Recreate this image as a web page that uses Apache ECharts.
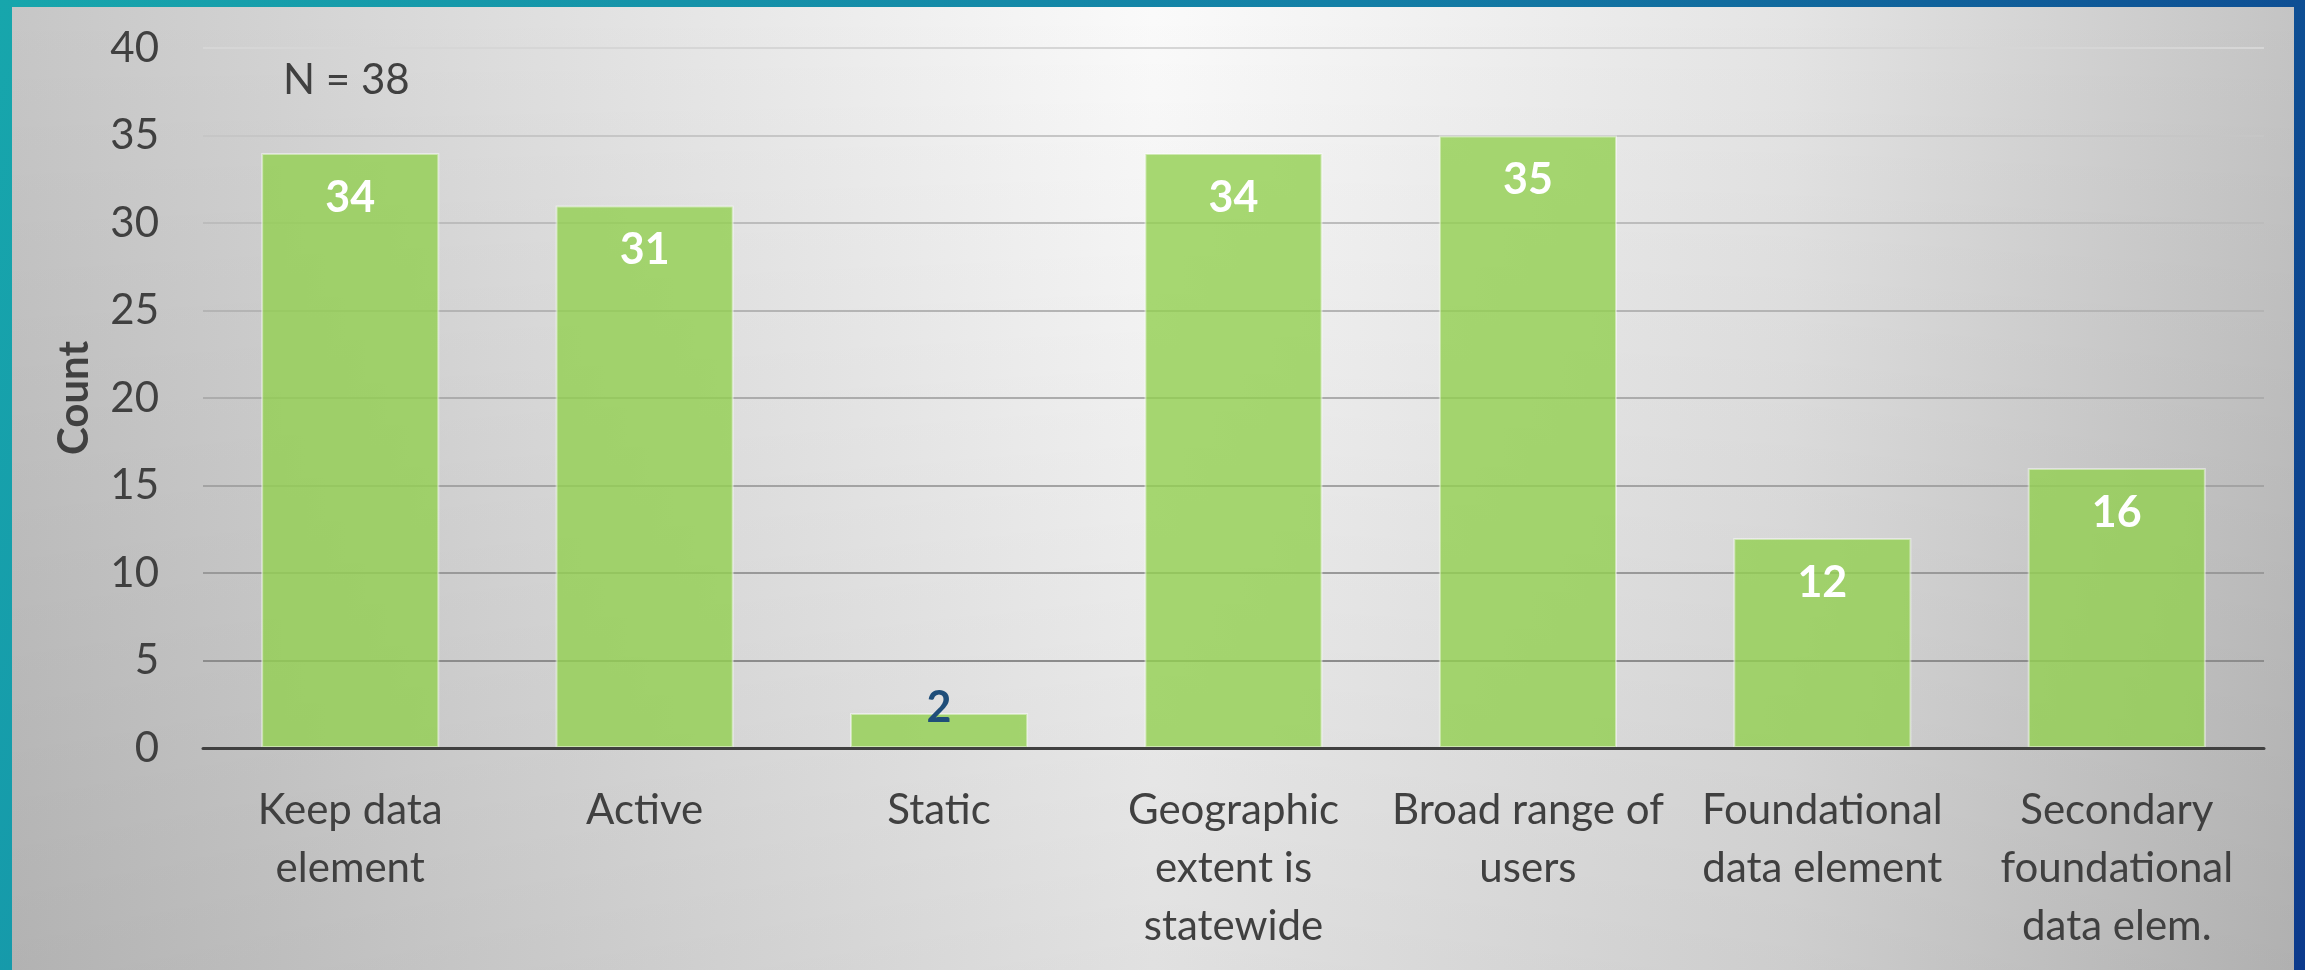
<!DOCTYPE html>
<html>
<head>
<meta charset="utf-8">
<script src="https://cdn.jsdelivr.net/npm/echarts@6/dist/echarts.min.js"></script>
<style>
html,body{margin:0;padding:0;width:2305px;height:970px;overflow:hidden;}
#chart{width:2305px;height:970px;}
</style>
</head>
<body>
<div id="chart"></div>
<script>
const categories = [
  "Keep data\nelement",
  "Active",
  "Static",
  "Geographic\nextent is\nstatewide",
  "Broad range of\nusers",
  "Foundational\ndata element",
  "Secondary\nfoundational\ndata elem."
];
const counts = [34, 31, 2, 34, 35, 12, 16];
const yTicks = { min: 0, max: 40, interval: 5 };
const annotation = "N = 38";
const yAxisTitle = "Count";

const FONT = "Lato";
const TXT = "#404040";

const chart = echarts.init(document.getElementById('chart'));

const seriesData = counts.map(function (v) {
  if (v < 5) {
    return {
      value: v,
      label: { position: 'top', distance: -20, color: '#1f4e79' }
    };
  }
  return v;
});

chart.setOption({
  animation: false,
  backgroundColor: {
    type: 'linear', x: 0, y: 0, x2: 1, y2: 1,
    colorStops: [
      { offset: 0, color: '#17a6ac' },
      { offset: 0.5, color: '#137fa6' },
      { offset: 1, color: '#0c3a8c' }
    ]
  },
  graphic: [
    {
      type: 'rect', z: -10, silent: true,
      shape: { x: 12, y: 7, width: 2282, height: 970 },
      style: {
        fill: {
          type: 'linear', x: 0, y: 0, x2: 1, y2: 0,
          colorStops: [
            { offset: 0, color: '#c6c6c6' },
            { offset: 0.22, color: '#dedede' },
            { offset: 0.5, color: '#fafafa' },
            { offset: 0.78, color: '#e4e4e4' },
            { offset: 1, color: '#c4c4c4' }
          ]
        }
      }
    },
    {
      type: 'rect', z: -9, silent: true,
      shape: { x: 12, y: 7, width: 2282, height: 970 },
      style: {
        fill: {
          type: 'linear', x: 0, y: 0, x2: 0, y2: 1,
          colorStops: [
            { offset: 0, color: 'rgba(0,0,0,0)' },
            { offset: 1, color: 'rgba(0,0,0,0.1)' }
          ]
        }
      }
    },
    {
      type: 'text', z: 10, left: 283, top: 59,
      style: {
        text: annotation,
        fontFamily: FONT, fontSize: 42, fill: TXT
      }
    }
  ],
  grid: { left: 203, right: 41, top: 48, bottom: 222, containLabel: false },
  xAxis: {
    type: 'category',
    data: categories,
    axisLine: { show: true, lineStyle: { color: '#404040', width: 3 } },
    axisTick: { show: false },
    axisLabel: {
      interval: 0, margin: 33,
      fontFamily: FONT, fontSize: 42, lineHeight: 58, color: TXT
    },
    z: 5
  },
  yAxis: {
    type: 'value',
    min: yTicks.min, max: yTicks.max, interval: yTicks.interval,
    name: yAxisTitle,
    nameLocation: 'middle',
    nameGap: 108,
    nameTextStyle: { fontFamily: FONT, fontSize: 42, fontWeight: 'bold', color: TXT },
    axisLine: { show: false },
    axisTick: { show: false },
    axisLabel: { margin: 44, fontFamily: FONT, fontSize: 42, color: TXT },
    splitLine: {
      show: true,
      lineStyle: {
        width: 2,
        color: ['#8c8c8c', '#8c8c8c', '#999999', '#a3a3a3', '#acacac', '#b4b4b4', '#bcbcbc', '#c6c6c6', '#d6d6d6']
      }
    }
  },
  series: [{
    type: 'bar',
    data: seriesData,
    barCategoryGap: '39.5%',
    itemStyle: {
      color: 'rgba(146,208,80,0.8)',
      borderColor: 'rgba(255,255,255,0.45)',
      borderWidth: 2
    },
    label: {
      show: true,
      position: 'insideTop',
      distance: 20,
      fontFamily: FONT, fontSize: 43, fontWeight: 'bold', lineHeight: 50,
      color: '#ffffff'
    }
  }]
});
</script>
</body>
</html>
